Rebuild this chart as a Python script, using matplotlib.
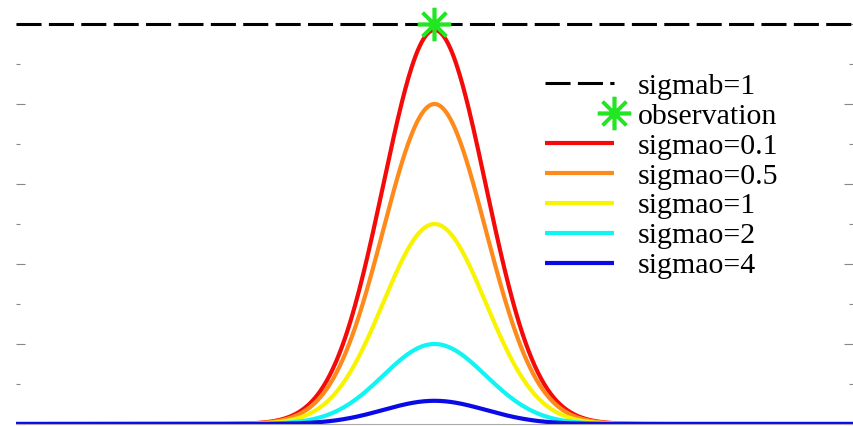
import numpy as np
import matplotlib
matplotlib.use("Agg")
import matplotlib.pyplot as plt
from matplotlib.legend_handler import HandlerLine2D
from matplotlib.lines import Line2D
from matplotlib.ticker import MultipleLocator

# values
labels = ["sigmao=0.1", "sigmao=0.5", "sigmao=1", "sigmao=2", "sigmao=4"]
peaks = [0.985, 0.80, 0.50, 0.20, 0.058]
colors = ["#f50a0a", "#ff8a1c", "#f8f400", "#10f4f4", "#0a0ae6"]
center = 0.0
width = 0.49
sigmab = 1.0
obs_x, obs_y = 0.0, 1.0

plt.rcParams["font.family"] = "serif"
plt.rcParams["font.serif"] = ["Liberation Serif", "DejaVu Serif"]

fig = plt.figure(figsize=(8.54, 4.26), dpi=100)
ax = fig.add_axes([16 / 854, 2 / 426, 837 / 854, 424 / 426])

x = np.linspace(-4, 4, 801)
ax.plot([-4, 4], [sigmab, sigmab], color="black", lw=2.2,
        linestyle=(0, (8.2, 2.4)), label="sigmab=1")
ax.plot([obs_x], [obs_y], linestyle="none", marker=(8, 2, 0), ms=24, mew=2.6,
        color="#22e622", label="observation", zorder=5)
for lab, p, c in zip(labels, peaks, colors):
    y = p * np.exp(-(x - center) ** 2 / (2 * width ** 2))
    ax.plot(x, y, color=c, lw=3, label=lab, solid_capstyle="butt")

ax.set_xlim(-4, 4)
ax.set_ylim(0, 1.06)

for s in ["top", "left", "right"]:
    ax.spines[s].set_visible(False)
ax.spines["bottom"].set_color("#aaaaaa")
ax.set_xticks([])
ax.yaxis.set_major_locator(MultipleLocator(0.2))
ax.yaxis.set_minor_locator(MultipleLocator(0.1))
ax.tick_params(axis="y", which="both", direction="in", left=True, right=True,
               labelleft=False, colors="#888888", width=0.8)
ax.tick_params(axis="y", which="major", length=6.5)
ax.tick_params(axis="y", which="minor", length=3)


class EndMarker(HandlerLine2D):
    # marker sits at the right end of the handle, as in the source
    def create_artists(self, legend, orig_handle, xdescent, ydescent,
                       width, height, fontsize, trans):
        ydata = [(height - ydescent) / 2.0]
        line = Line2D([width - xdescent], ydata)
        self.update_prop(line, orig_handle, legend)
        line.set_transform(trans)
        return [line]


h, l = ax.get_legend_handles_labels()
leg = ax.legend(h, l, frameon=False, fontsize=21.5, handlelength=2.3,
                handletextpad=0.8, labelspacing=0.1, borderpad=0,
                borderaxespad=0, loc="upper left",
                bbox_to_anchor=(545 / 854, 1 - 73 / 426),
                bbox_transform=fig.transFigure,
                handler_map={h[1]: EndMarker()})

fig.savefig("out.png", dpi=100)
